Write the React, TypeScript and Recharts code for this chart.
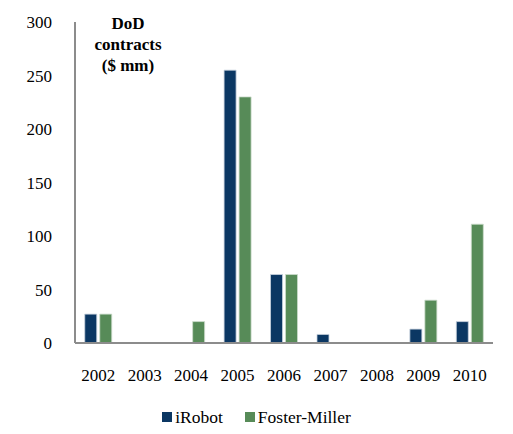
import { Bar, BarChart, XAxis, YAxis } from "recharts";

const years = ["2002", "2003", "2004", "2005", "2006", "2007", "2008", "2009", "2010"];
const iRobot = [27, 0, 0, 255, 64, 8, 0, 13, 20];
const fosterMiller = [27, 0, 20, 230, 64, 0, 0, 40, 111];
const yTicks = [0, 50, 100, 150, 200, 250, 300];
const seriesNames = ["iRobot", "Foster-Miller"];
const seriesColors = ["#0b3763", "#578b58"];

const data = years.map((year, i) => ({
  year,
  iRobot: iRobot[i],
  fosterMiller: fosterMiller[i],
}));

const font = "'Liberation Serif', 'Times New Roman', serif";
const tickStyle = { fill: "#000", fontSize: 17, fontFamily: font };

export default function App() {
  return (
    <div
      style={{
        position: "absolute",
        left: 0,
        top: 0,
        width: 513,
        height: 434,
        background: "#fff",
        fontFamily: font,
      }}
    >
      <BarChart
        width={513}
        height={434}
        data={data}
        margin={{ top: 22, right: 20, bottom: 39, left: 0 }}
        barCategoryGap="21%"
        barGap={3}
        style={{ fontFamily: font }}
      >
        <XAxis
          dataKey="year"
          axisLine={{ stroke: "#8c8c8c", strokeWidth: 2 }}
          tickLine={false}
          tickSize={0}
          tickMargin={26}
          height={52}
          tick={tickStyle}
          interval={0}
        />
        <YAxis
          domain={[0, 300]}
          ticks={yTicks}
          axisLine={{ stroke: "#8c8c8c", strokeWidth: 2 }}
          tickLine={false}
          tickSize={0}
          tickMargin={23}
          width={75}
          tick={tickStyle}
        />
        <Bar
          dataKey="iRobot"
          name={seriesNames[0]}
          fill={seriesColors[0]}
          stroke="#c9d3de"
          strokeWidth={0.8}
          isAnimationActive={false}
        />
        <Bar
          dataKey="fosterMiller"
          name={seriesNames[1]}
          fill={seriesColors[1]}
          stroke="#cddccd"
          strokeWidth={0.8}
          isAnimationActive={false}
        />
      </BarChart>
      <div
        style={{
          position: "absolute",
          left: 78,
          top: 13,
          width: 100,
          textAlign: "center",
          fontWeight: "bold",
          fontSize: 17,
          lineHeight: "21px",
          color: "#000",
        }}
      >
        DoD
        <br />
        contracts
        <br />
        ($ mm)
      </div>
      <div
        style={{
          position: "absolute",
          left: 0,
          top: 406,
          width: 513,
          display: "flex",
          justifyContent: "center",
          fontSize: 17.5,
          lineHeight: "22px",
          color: "#000",
        }}
      >
        {seriesNames.map((name, i) => (
          <span key={name} style={{ display: "flex", alignItems: "center", marginRight: i === 0 ? 22 : 0 }}>
            <span
              style={{
                display: "inline-block",
                width: 10,
                height: 10,
                background: seriesColors[i],
                marginRight: 3,
              }}
            />
            {name}
          </span>
        ))}
      </div>
    </div>
  );
}
